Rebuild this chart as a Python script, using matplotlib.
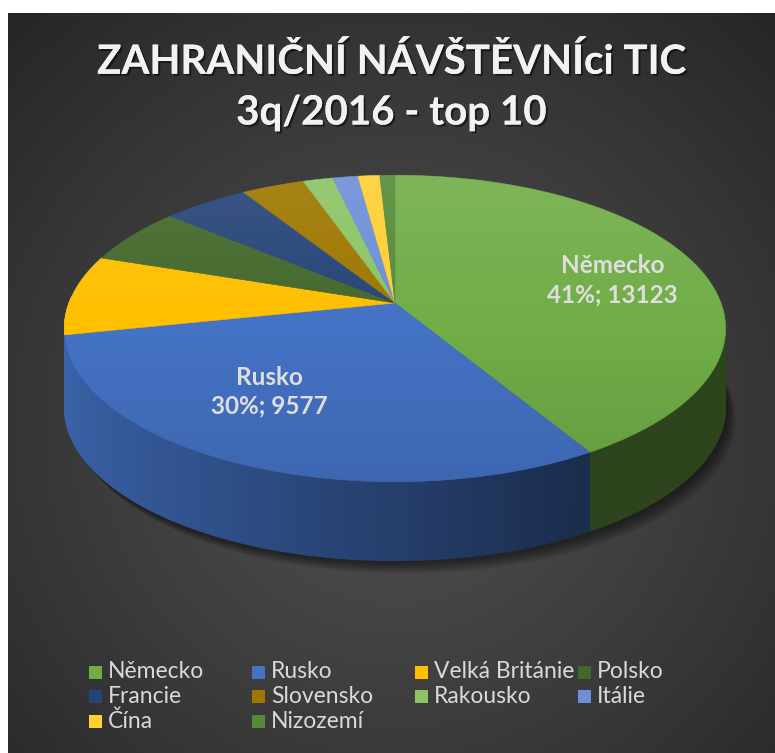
import numpy as np
import matplotlib
matplotlib.use("Agg")
import matplotlib.pyplot as plt
from matplotlib.patches import Polygon, Rectangle
import matplotlib.patheffects as pe
from matplotlib.colors import to_rgb

# ---------------- data ----------------
categories = ["Německo", "Rusko", "Velká Británie", "Polsko", "Francie",
              "Slovensko", "Rakousko", "Itálie", "Čína", "Nizozemí"]
visitors = [13123, 9577, 2680, 1910, 1560, 1145, 540, 460, 395, 275]
colors = ["#70AD47", "#4472C4", "#FFC000", "#43682B", "#264478",
          "#9E7700", "#8CC466", "#6C8FD8", "#FFCF33", "#558B38"]
title_lines = ["ZAHRANIČNÍ NÁVŠTĚVNÍci TIC", "3q/2016 - top 10"]
labelled = ["Německo", "Rusko"]

W, H = 775, 753
FONT = ["Lato", "DejaVu Sans"]
plt.rcParams["font.family"] = FONT

fig = plt.figure(figsize=(W / 100, H / 100), dpi=100)
fig.patch.set_facecolor("white")

# ---------------- background (radial gradient) ----------------
bg = fig.add_axes([8 / W, 0, 1 - 8 / W, 1 - 13 / H])
yy, xx = np.mgrid[13:H, 8:W].astype(float)
rr = np.clip(np.hypot(xx - 395, yy - 430) / 560, 0, 1)
g = 0.31 - 0.16 * rr ** 1.2
bg.imshow(np.dstack([g, g, g]), aspect="auto", extent=[0, 1, 0, 1])
bg.set_xlim(0, 1); bg.set_ylim(0, 1)
bg.axis("off")

# ---------------- pie axes (pixel coords) ----------------
ax = fig.add_axes([0, 0, 1, 1])
ax.set_facecolor("none")
ax.set_xlim(0, W); ax.set_ylim(H, 0)
ax.axis("off")

CX, CY, RX, RY, A, DEPTH = 395, 303, 326, 149, 0.166, 79


def proj(theta, z=0.0, r=1.0):
    u = r * np.cos(theta)
    v = r * np.sin(theta)
    s = 1.0 / (1.0 + A * v)
    return CX + RX * u * s, CY - RY * v * s + z * DEPTH


vals = np.array(visitors, dtype=float)
total = vals.sum()
cum = np.concatenate([[0], np.cumsum(vals)]) / total
t_start = np.pi / 2 - 2 * np.pi * cum[:-1]
t_end = np.pi / 2 - 2 * np.pi * cum[1:]

# shadow
full = np.linspace(0, 2 * np.pi, 300)
for k in range(8):
    bx, by = proj(full, z=1.0)
    ax.add_patch(Polygon(np.column_stack([bx + 2 + k * 1.2, by + 3 + k * 1.4]),
                         closed=True, fc="black", ec="none", alpha=0.07, zorder=1))

# side walls (collected, then drawn back to front)
quads = []
for i in range(len(vals)):
    base = np.array(to_rgb(colors[i]))
    ts = np.linspace(t_start[i], t_end[i], max(3, int(abs(t_end[i] - t_start[i]) / 0.01)))
    for a0, a1 in zip(ts[:-1], ts[1:]):
        mid = 0.5 * (a0 + a1)
        if np.sin(mid) > 0.05:
            continue
        f = np.clip(0.55 - 0.32 * np.cos(mid), 0.40, 0.88)
        c = base * f
        x0, y0 = proj(a0); x1, y1 = proj(a1)
        x2, y2 = proj(a1, 1.0); x3, y3 = proj(a0, 1.0)
        quads.append((np.sin(mid), [(x0, y0), (x1, y1), (x2, y2), (x3, y3)], c))
quads.sort(key=lambda q: -q[0])
for _, pts, c in quads:
    ax.add_patch(Polygon(pts, closed=True, fc=c, ec=c, lw=0.6, zorder=2))

# top faces
for i in range(len(vals)):
    ts = np.linspace(t_start[i], t_end[i], max(3, int(abs(t_end[i] - t_start[i]) / 0.01)))
    px, py = proj(ts)
    pts = np.column_stack([np.r_[CX, px], np.r_[CY, py]])
    ax.add_patch(Polygon(pts, closed=True, fc=colors[i], ec=colors[i], lw=0.4, zorder=3))

# gradient overlay on top face
tx, ty = proj(full)
clip = Polygon(np.column_stack([tx, ty]), closed=True, fc="none", ec="none",
               transform=ax.transData)
ax.add_patch(clip)
lin = np.linspace(0, 1, 200)
grad = np.zeros((200, 2, 4))
white = (lin < 0.5).astype(float)
grad[..., 0] = white[:, None]
grad[..., 1] = white[:, None]
grad[..., 2] = white[:, None]
alpha = np.where(lin < 0.5, 0.10 * (1 - lin / 0.5), 0.10 * (lin - 0.5) / 0.5)
grad[..., 3] = alpha[:, None]
im = ax.imshow(grad, extent=[CX - RX - 10, CX + RX + 10, ty.max() + 2, ty.min() - 2],
               aspect="auto", zorder=4, interpolation="bilinear")
im.set_clip_path(clip)
ax.set_xlim(0, W); ax.set_ylim(H, 0)

# data labels
label_offsets = {"Německo": (28, 1), "Rusko": (-36, -5)}
for i, name in enumerate(categories):
    if name not in labelled:
        continue
    mid = 0.5 * (t_start[i] + t_end[i])
    lx, ly = proj(mid, r=0.62)
    dx, dy = label_offsets[name]
    ax.text(lx + dx, ly + dy, f"{name}\n{round(100 * vals[i] / total):.0f}%; {visitors[i]}",
            ha="center", va="center", color="#DEDEDE", fontsize=17.5, fontweight="bold",
            linespacing=1.3, zorder=6)

# title
title_y = [62, 113]
for line, y in zip(title_lines, title_y):
    fig.text(0.505, 1 - y / H, line, ha="center", va="center", color="#F2F2F2",
             fontsize=29, fontweight="bold",
             path_effects=[pe.withSimplePatchShadow(offset=(1.5, -1.5), shadow_rgbFace="black", alpha=0.5),
                           pe.Normal()])

# legend (manual grid, row-major like the original)
lx0, ly0, colstep, rowstep, box = 89, 672, 163, 24.5, 13
for i, name in enumerate(categories):
    row, col = divmod(i, 4)
    x = lx0 + col * colstep
    y = ly0 + row * rowstep
    ax.add_patch(Rectangle((x, y - box / 2), box, box, fc=colors[i], ec="none", zorder=6))
    ax.text(x + box + 6, y, name, ha="left", va="center", color="#D9D9D9",
            fontsize=16.5, zorder=6)

fig.savefig("out.png", dpi=100, facecolor=fig.get_facecolor())
